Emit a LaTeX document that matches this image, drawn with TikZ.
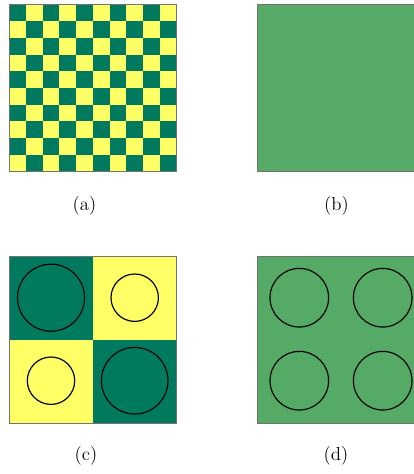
\documentclass[tikz,border=0pt]{standalone}
\usepackage{tikz}
\usetikzlibrary{positioning}
\definecolor{tiledark}{RGB}{0,122,94}
\definecolor{tilelight}{RGB}{255,255,102}
\definecolor{tilemix}{RGB}{85,170,102}
\definecolor{panelframe}{RGB}{115,115,115}

\begin{document}
\begin{tikzpicture}[x=0.637pt,y=-0.637pt]
  \useasboundingbox (0,0) rectangle (414,474);
  \clip (0,0) rectangle (414,474);
  \tikzset{frameline/.style={panelframe,line width=0.6pt},
           ring/.style={black,line width=0.75pt},
           caption/.style={font=\large}}
  % (a) fine checkerboard, 10 x 10
  \fill[tilelight] (9.3,4.5) rectangle (176.3,171.5);
  \foreach \i in {0,...,9}{
    \foreach \j in {0,...,9}{
      \pgfmathtruncatemacro\cellpar{mod(\i+\j,2)}
      \ifnum\cellpar=0
        \fill[tiledark] (9.3+16.7*\i,4.5+16.7*\j) rectangle ++(16.7,16.7);
      \fi
    }
  }
  \draw[frameline] (9.3,4.5) rectangle (176.3,171.5);
  % (b) homogenised
  \fill[tilemix] (257.7,4.5) rectangle (424.7,171.5);
  \draw[frameline] (257.7,4.5) rectangle (424.7,171.5);
  % (c) coarse checkerboard with inclusions
  \fill[tilelight] (9.3,256) rectangle (176.3,423);
  \fill[tiledark] (9.3,256) rectangle (92.8,339.5);
  \fill[tiledark] (92.8,339.5) rectangle (176.3,423);
  \draw[frameline] (9.3,256) rectangle (176.3,423);
  \foreach \cx/\cy/\rr in {51/297.7/33.5,134.7/297.7/23.7,51/380.7/23.7,134.7/380.7/33.3}{
    \draw[ring] (\cx,\cy) circle (\rr);
  }
  % (d) homogenised with inclusions
  \fill[tilemix] (257.5,256) rectangle (424.5,423);
  \draw[frameline] (257.5,256) rectangle (424.5,423);
  \foreach \cx/\cy in {299.3/297.7,382.7/297.7,299.3/380.7,382.7/380.7}{
    \draw[ring] (\cx,\cy) circle (29.3);
  }
  \node[caption] (capa) at (84.5,206) {(a)};
  \node[caption] (capb) at (336.5,206) {(b)};
  \node[caption] (capc) at (86,455.7) {(c)};
  \node[caption] (capd) at (336,455.7) {(d)};
\end{tikzpicture}
\end{document}
